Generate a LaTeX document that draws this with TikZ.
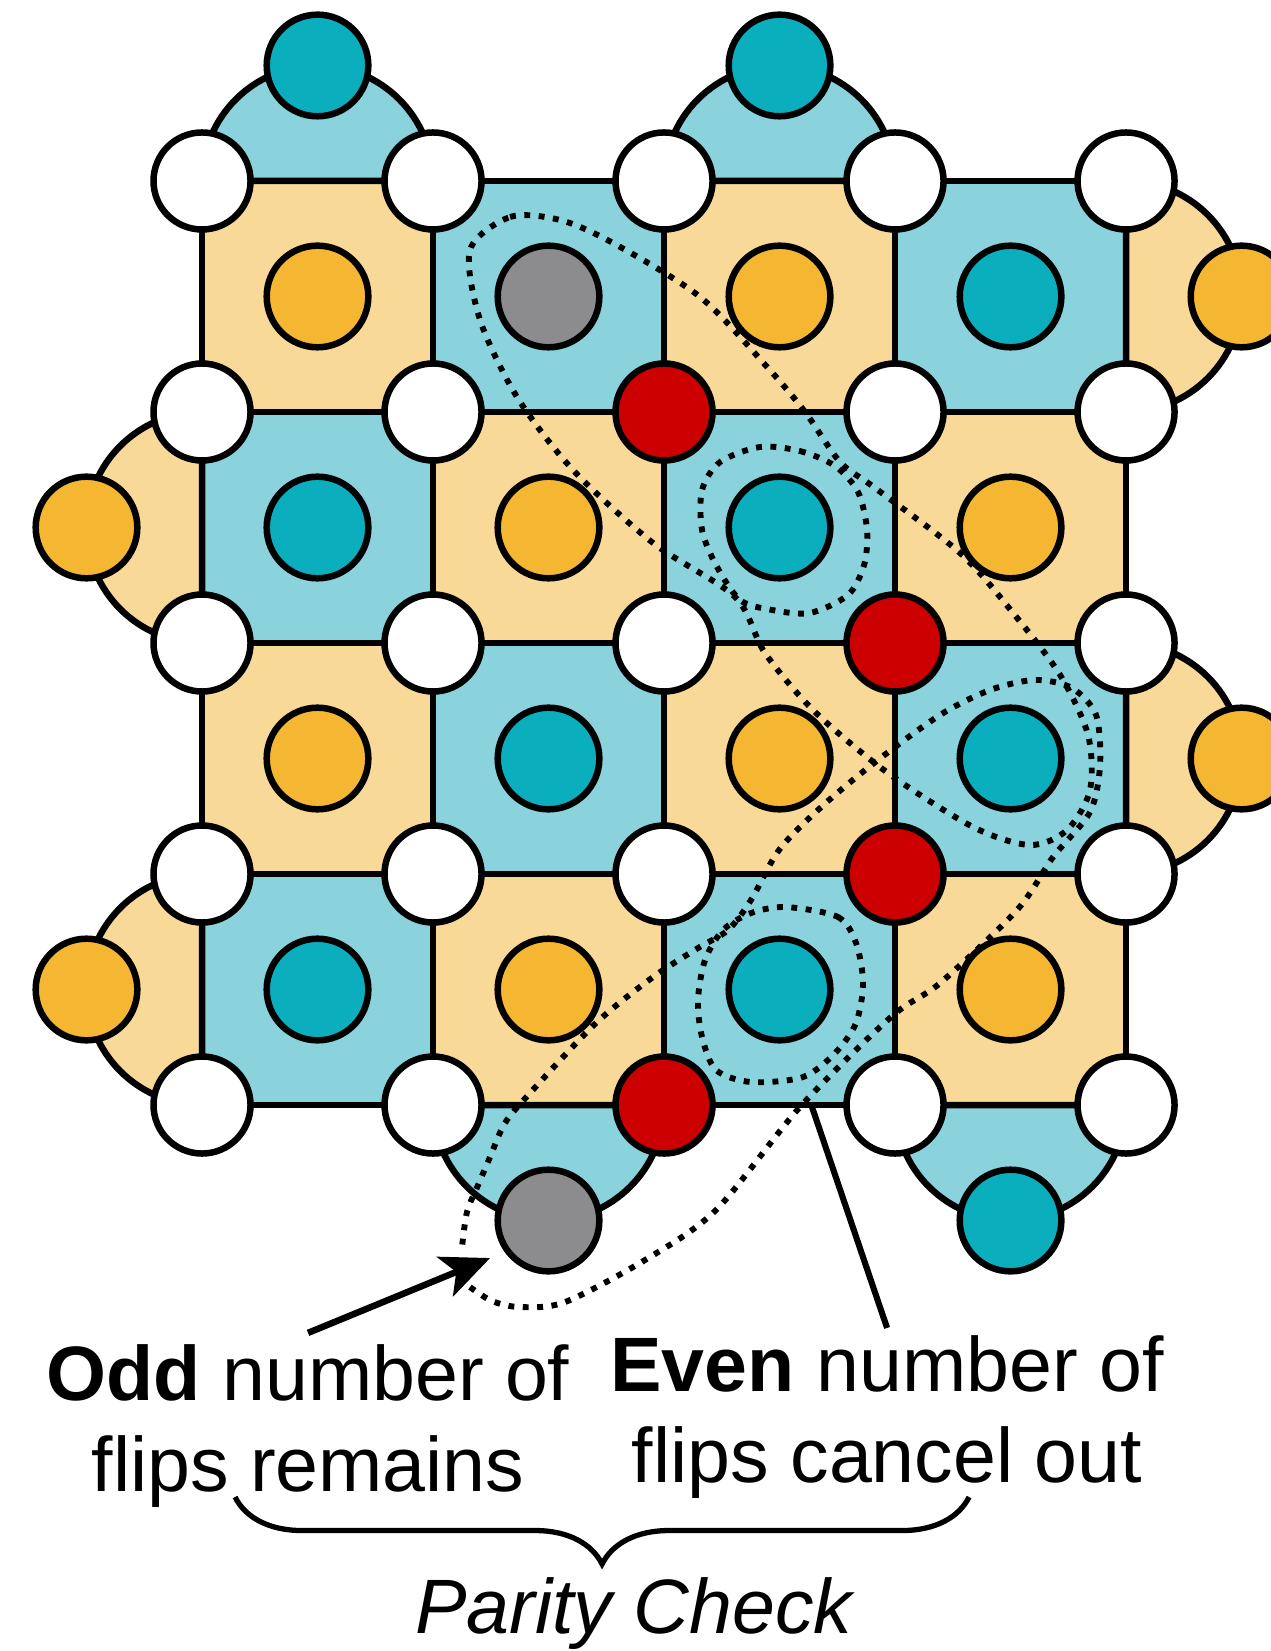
\documentclass[tikz,border=0pt]{standalone}
\usepackage{fontspec}
\setmainfont{Liberation Sans}
\usetikzlibrary{arrows.meta,decorations.pathreplacing}

\definecolor{plaqblue}{RGB}{138,211,221}
\definecolor{plaqorange}{RGB}{249,217,152}
\definecolor{ancteal}{RGB}{10,174,189}
\definecolor{ancorange}{RGB}{245,183,50}
\definecolor{flipred}{RGB}{204,0,0}
\definecolor{ancgray}{RGB}{140,140,142}

\begin{document}
\begin{tikzpicture}[line width=1.6pt,
		dataq/.style={circle, draw, fill=white, minimum size=.84cm, inner sep=0pt},
		flipq/.style={dataq, fill=flipred},
		ancq/.style={circle, draw, minimum size=.88cm, inner sep=0pt},
		loopline/.style={line width=1.45pt, dash pattern=on 1.45pt off 2.1pt},
		txt/.style={font=\fontsize{19}{22.4}\selectfont, align=center, inner sep=0pt}]
		\useasboundingbox (-1.749,-12.727) rectangle (9.255,1.567);
		
		% plaquettes
		\foreach \y in {0,...,3}
		\foreach \x in {0,...,3} {
			\def\pc{plaqorange}
			\ifodd\numexpr\x+\y\relax \def\pc{plaqblue}\fi
			\draw[fill=\pc] (2*\x,-2*\y) rectangle ++(2,-2);
		}
		
		% boundary plaquettes
		\draw[fill=plaqblue] (0,0) arc[start angle=180, end angle=0, radius=1] -- cycle;
		\draw[fill=plaqblue] (4,0) arc[start angle=180, end angle=0, radius=1] -- cycle;
		\draw[fill=plaqorange] (8,0) arc[start angle=90, end angle=-90, radius=1] -- cycle;
		\draw[fill=plaqorange] (8,-4) arc[start angle=90, end angle=-90, radius=1] -- cycle;
		\draw[fill=plaqorange] (0,-2) arc[start angle=90, end angle=270, radius=1] -- cycle;
		\draw[fill=plaqorange] (0,-6) arc[start angle=90, end angle=270, radius=1] -- cycle;
		\draw[fill=plaqblue] (2,-8) arc[start angle=180, end angle=360, radius=1] -- cycle;
		\draw[fill=plaqblue] (6,-8) arc[start angle=180, end angle=360, radius=1] -- cycle;
		
		% dotted loops
		\draw[loopline] plot[smooth cycle] coordinates {(2.320,-0.597) (2.667,-0.312) (3.100,-0.338) (3.558,-0.537)
			(4.312,-1.004) (4.892,-1.610) (5.221,-2.000) (5.524,-2.433) (5.827,-2.658) (6.563,-3.221)
			(7.022,-3.740) (7.429,-4.277) (7.671,-4.797) (7.688,-5.273) (7.489,-5.619) (7.169,-5.749)
			(6.675,-5.593) (5.939,-5.126) (5.307,-4.597) (4.874,-4.087) (4.615,-3.602) (3.905,-3.134)
			(3.212,-2.502) (2.727,-1.870) (2.407,-1.203)};
		\draw[loopline] plot[smooth] coordinates {(2.320,-9.576) (2.511,-9.697) (2.753,-9.749) (3.143,-9.706)
			(3.835,-9.342) (4.450,-8.909) (5.177,-8.017) (5.965,-7.238) (6.390,-6.944) (7.056,-6.312)
			(7.368,-5.853) (7.688,-5.463) (7.775,-5.056) (7.740,-4.623) (7.532,-4.390) (7.212,-4.320)
			(6.823,-4.407) (6.390,-4.623) (5.818,-5.039) (5.351,-5.429) (4.996,-5.792) (4.753,-6.225)
			(4.554,-6.485) (4.294,-6.641) (3.905,-6.892) (3.411,-7.290) (2.840,-7.896) (2.623,-8.156)
			(2.494,-8.450) (2.390,-8.693) (2.294,-8.926) (2.251,-9.229)};
		\draw[loopline] plot[smooth cycle] coordinates {(4.831,-2.303) (5.177,-2.338) (5.481,-2.468) (5.680,-2.693)
			(5.758,-3.022) (5.732,-3.325) (5.593,-3.584) (5.264,-3.740) (4.935,-3.714) (4.658,-3.628)
			(4.450,-3.325) (4.329,-3.022) (4.329,-2.675) (4.485,-2.433)};
		\draw[loopline] plot[smooth cycle] coordinates {(5.056,-6.286) (5.506,-6.372) (5.662,-6.597) (5.723,-6.944)
			(5.662,-7.290) (5.481,-7.550) (5.203,-7.758) (4.753,-7.801) (4.450,-7.697) (4.329,-7.411)
			(4.294,-7.091) (4.355,-6.745) (4.511,-6.485) (4.753,-6.338)};
		
		% ancilla qubits
		\foreach \x/\y in {0/0,2/0,1/1,3/1,0/2,2/2,1/3,3/3}
		\node[ancq, fill=ancorange] (a\x\y) at (2*\x+1,-2*\y-1) {};
		\foreach \x/\y in {3/0,0/1,2/1,1/2,3/2,0/3,2/3}
		\node[ancq, fill=ancteal] (a\x\y) at (2*\x+1,-2*\y-1) {};
		\node[ancq, fill=ancgray] (a10) at (3,-1) {};
		
		\node[ancq, fill=ancteal] (top1) at (1,1) {};
		\node[ancq, fill=ancteal] (top2) at (5,1) {};
		\node[ancq, fill=ancorange] (right1) at (9,-1) {};
		\node[ancq, fill=ancorange] (right2) at (9,-5) {};
		\node[ancq, fill=ancorange] (left1) at (-1,-3) {};
		\node[ancq, fill=ancorange] (left2) at (-1,-7) {};
		\node[ancq, fill=ancgray] (bottom1) at (3,-9) {};
		\node[ancq, fill=ancteal] (bottom2) at (7,-9) {};
		
		% data qubits
		\foreach \x/\y in {0/0,1/0,2/0,3/0,4/0, 0/1,1/1,3/1,4/1, 0/2,1/2,2/2,4/2, 0/3,1/3,2/3,4/3, 0/4,1/4,3/4,4/4}
		\node[dataq] (d\x\y) at (2*\x,-2*\y) {};
		\foreach \x/\y in {2/1,3/2,3/3,2/4}
		\node[flipq] (d\x\y) at (2*\x,-2*\y) {};
		
		% labels
		\node[txt, anchor=north] (odd) at (0.918,-10.043) {\textbf{Odd} number of\\flips remains};
		\node[txt, anchor=north] (even) at (5.931,-9.965) {\textbf{Even} number of\\flips cancel out};
		\node[txt, anchor=base, font=\fontsize{19}{22.4}\selectfont\itshape] (parity) at (3.74,-12.571) {Parity Check};
		
		\coordinate (oddtip) at (2.494,-9.325);
		\coordinate (eventip) at (5.281,-8.017);
		\draw[line width=1.6pt, -{Stealth[length=12pt, width=10.5pt, inset=3pt]}] ([yshift=2pt]odd.north) -- (oddtip);
		\draw[line width=1.5pt] ([yshift=1pt]even.north) -- (eventip);
		
		\coordinate (brL) at (0.286,-11.394);
		\coordinate (brR) at (6.641,-11.394);
		\draw[line width=1.3pt, decorate, decoration={brace, mirror, amplitude=16.5pt}] (brL) -- (brR);
\end{tikzpicture}
\end{document}
